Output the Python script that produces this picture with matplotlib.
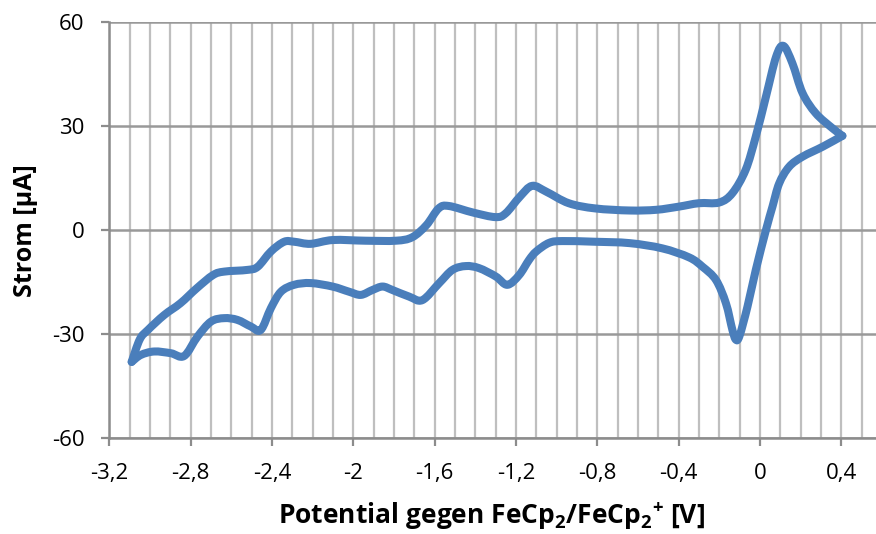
import matplotlib
matplotlib.use("Agg")
import matplotlib.pyplot as plt
import numpy as np
from matplotlib.path import Path
from matplotlib.patches import PathPatch
from matplotlib.ticker import MultipleLocator, FuncFormatter

# Cyclic voltammogram: anodic sweep (left -> right) then cathodic sweep back
potential_forward = [-3.09, -3.05, -3.01, -2.93, -2.85, -2.77, -2.69, -2.635, -2.52, -2.47,
                     -2.405, -2.34, -2.29, -2.21, -2.10, -1.94, -1.79, -1.71, -1.64, -1.58,
                     -1.53, -1.41, -1.30, -1.25, -1.18, -1.12, -1.05, -0.94, -0.81, -0.64,
                     -0.51, -0.40, -0.30, -0.20, -0.135, -0.07, -0.02, 0.03, 0.08,
                     0.116, 0.16, 0.21, 0.275, 0.357, 0.406]
current_forward = [-38.0, -31.5, -28.8, -24.5, -21.1, -16.8, -13.0, -12.0, -11.5, -10.6,
                   -6.2, -3.4, -3.4, -4.0, -2.9, -3.1, -3.1, -2.1, 1.4, 6.2,
                   6.9, 5.0, 3.7, 4.8, 9.6, 12.7, 11.0, 7.7, 6.2, 5.6,
                   5.8, 6.7, 7.7, 7.9, 10.6, 17.3, 26.9, 38.4, 49.9,
                   53.0, 48.0, 39.4, 33.6, 29.3, 27.1]

potential_reverse = [0.406, 0.31, 0.21, 0.144, 0.095, 0.062, 0.03, -0.02, -0.061, -0.10,
                     -0.118, -0.135, -0.167, -0.216, -0.282, -0.348, -0.48, -0.64, -0.81, -0.97,
                     -1.036, -1.10, -1.135, -1.184, -1.242, -1.299, -1.381, -1.446, -1.512, -1.577,
                     -1.660, -1.725, -1.807, -1.856, -1.906, -1.963, -2.020, -2.102, -2.209, -2.291,
                     -2.356, -2.405, -2.455, -2.504, -2.570, -2.635, -2.700, -2.766, -2.832, -2.897,
                     -2.979, -3.045, -3.09]
current_reverse = [27.1, 24.0, 21.1, 18.2, 13.4, 6.7, 0.0, -11.5, -22.1, -30.5,
                   -31.6, -28.8, -21.1, -14.4, -10.6, -7.9, -5.3, -3.8, -3.4, -3.2,
                   -3.7, -6.2, -8.6, -13.0, -15.8, -13.4, -11.0, -10.4, -11.5, -15.3,
                   -20.2, -19.2, -17.3, -16.3, -17.3, -18.7, -17.8, -16.3, -15.3, -15.8,
                   -17.8, -22.5, -28.8, -27.8, -25.9, -25.4, -26.4, -30.7, -36.3, -35.5,
                   -35.0, -36.0, -38.0]

x_ticks = [-3.2, -2.8, -2.4, -2.0, -1.6, -1.2, -0.8, -0.4, 0.0, 0.4]
y_ticks = [-60, -30, 0, 30, 60]

plt.rcParams['font.family'] = ['Open Sans', 'DejaVu Sans']
plt.rcParams['axes.unicode_minus'] = False
plt.rcParams['mathtext.fontset'] = 'custom'
plt.rcParams['mathtext.rm'] = 'Open Sans'
plt.rcParams['mathtext.bf'] = 'Open Sans:bold'


def smooth_path(xs, ys):
    """Bezier path through every point (Catmull-Rom tangents), like a smoothed line."""
    p = np.column_stack([xs, ys]).astype(float)
    n = len(p)
    verts = [p[0]]
    codes = [Path.MOVETO]
    for i in range(n - 1):
        p0 = p[i - 1] if i > 0 else p[i]
        p3 = p[i + 2] if i + 2 < n else p[i + 1]
        c1 = p[i] + (p[i + 1] - p0) / 6.0
        c2 = p[i + 1] - (p3 - p[i]) / 6.0
        verts += [c1, c2, p[i + 1]]
        codes += [Path.CURVE4] * 3
    return Path(verts, codes)


W, H = 876, 534
fig = plt.figure(figsize=(W / 100, H / 100), dpi=100)
left, right, top, bottom = 109.3, 876, 21.6, 438.3
ax = fig.add_axes([left / W, 1 - bottom / H, (right - left) / W, (bottom - top) / H])

line_style = dict(facecolor='none', edgecolor='#4a7ebb', linewidth=5.8,
                  capstyle='round', joinstyle='round', zorder=3)
ax.add_patch(PathPatch(smooth_path(potential_forward, current_forward), **line_style))
ax.add_patch(PathPatch(smooth_path(potential_reverse, current_reverse), **line_style))

ax.set_xlim(-3.2, -3.2 + (right - left) / 203.3)
ax.set_ylim(-60, 60)

ax.set_xticks(x_ticks)
ax.xaxis.set_minor_locator(MultipleLocator(0.1))
ax.set_yticks(y_ticks)

fmt = FuncFormatter(lambda v, p: ('%g' % round(v, 1)).replace('.', ','))
ax.xaxis.set_major_formatter(fmt)

ax.grid(True, which='both', axis='x', color='#bfbfbf', linewidth=1.6, zorder=0)
ax.grid(True, which='major', axis='y', color='#999999', linewidth=1.8, zorder=0)

for s in ['top', 'right']:
    ax.spines[s].set_visible(False)
for s in ['left', 'bottom']:
    ax.spines[s].set_color('#8c8c8c')
    ax.spines[s].set_linewidth(1.8)

ax.tick_params(axis='both', which='major', direction='out', length=6, width=1.6,
               color='#8c8c8c', labelsize=16, labelcolor='black')
ax.tick_params(axis='y', which='major', pad=12)
ax.tick_params(axis='x', which='major', pad=12)
ax.tick_params(axis='x', which='minor', length=0)

fig.text(25 / W, 1 - 231 / H, 'Strom [µA]', rotation=90, ha='center', va='center',
         fontsize=18, fontweight='bold')
fig.text(491 / W, 1 - 524 / H,
         'Potential gegen FeCp$_\\mathbf{2}$/FeCp$_\\mathbf{2}{}^\\mathbf{+}$ [V]',
         ha='center', va='baseline', fontsize=19, fontweight='bold')

fig.savefig('out.png', dpi=100)
